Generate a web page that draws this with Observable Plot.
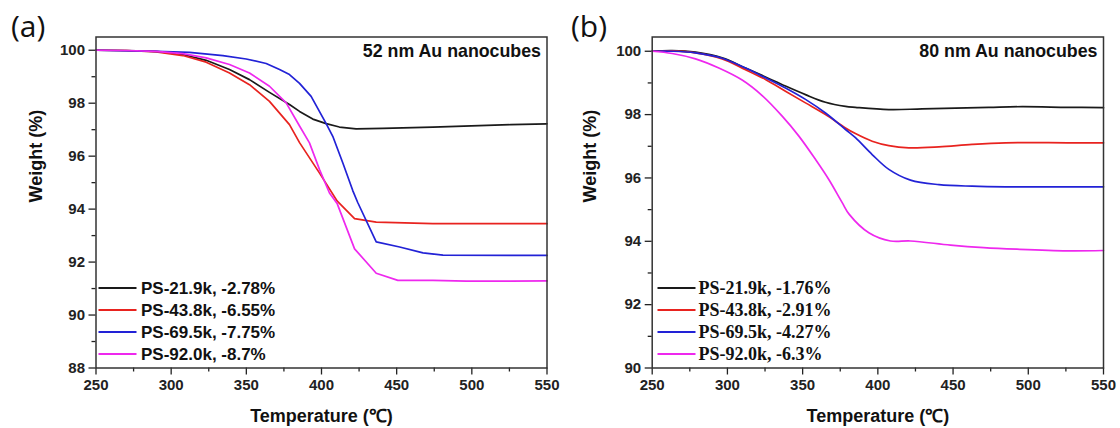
<!DOCTYPE html>
<html><head><meta charset="utf-8">
<script src="https://cdn.jsdelivr.net/npm/d3@7"></script>
<script src="https://cdn.jsdelivr.net/npm/@observablehq/plot@0.6"></script>
<style>
body{margin:0;background:#fff;}
#wrap{width:1120px;height:428px;display:flex;}
#wrap svg{display:block;}
</style></head><body><div id="wrap"></div>
<script>
// ---------- data ----------
const seriesNames = ["PS-21.9k", "PS-43.8k", "PS-69.5k", "PS-92.0k"];
const seriesColors = ["#1a1a1a", "#e8231f", "#2222d6", "#ee28ee"];
const xTicks = [250, 300, 350, 400, 450, 500, 550];
const xMinor = [275, 325, 375, 425, 475, 525];

// panel (a) 52 nm Au nanocubes
const legendA = ["PS-21.9k, -2.78%", "PS-43.8k, -6.55%", "PS-69.5k, -7.75%", "PS-92.0k, -8.7%"];
const yTicksA = [88, 90, 92, 94, 96, 98, 100];
const yMinorA = [89, 91, 93, 95, 97, 99];
const tA1 = [250,270,290,307.8,323.3,338.8,352.1,365.4,378.7,385.4,394.2,403.1,411.9,423,440.8,474.1,525.8,550];
const wA1 = [100,99.99,99.96,99.84,99.62,99.27,98.89,98.41,97.95,97.69,97.40,97.23,97.10,97.03,97.05,97.10,97.19,97.22];
const tA2 = [250,270,290,307.8,323.3,338.8,352.1,365.4,378.7,385.4,398.7,410.5,422,436.4,474.1,525.8,550];
const wA2 = [100,99.99,99.94,99.80,99.55,99.14,98.70,98.07,97.19,96.51,95.36,94.30,93.64,93.51,93.45,93.45,93.45];
const tA3 = [250,290,312.2,334.4,349.9,363.2,372.1,378.7,385.4,393.1,403.1,407.5,414.2,420.8,424.1,436.4,452,467.5,480.8,525.8,550];
const wA3 = [100,99.96,99.92,99.80,99.67,99.50,99.27,99.08,98.75,98.26,97.23,96.75,95.74,94.70,94.25,92.76,92.57,92.35,92.26,92.25,92.25];
const tA4 = [250,270,290,307.8,323.3,338.8,352.1,365.4,376.5,385.4,392,398.7,405.3,410.5,422,436.4,450.8,474.1,496.3,525.8,550];
const wA4 = [100,99.99,99.96,99.87,99.71,99.46,99.14,98.64,98.01,97.14,96.50,95.49,94.61,94.20,92.50,91.58,91.31,91.31,91.28,91.28,91.29];

// panel (b) 80 nm Au nanocubes
const legendB = ["PS-21.9k, -1.76%", "PS-43.8k, -2.91%", "PS-69.5k, -4.27%", "PS-92.0k, -6.3%"];
const yTicksB = [90, 92, 94, 96, 98, 100];
const yMinorB = [91, 93, 95, 97, 99];
const tB1 = [250,263.3,278.8,296.5,312,325.3,338.6,351.9,365.2,378.5,385.1,407.3,429.5,473.8,496,526.1,550];
const wB1 = [100,100.02,99.97,99.79,99.47,99.19,98.90,98.63,98.39,98.26,98.23,98.16,98.18,98.23,98.25,98.23,98.22];
const tB2 = [250,263.3,278.8,296.5,312,325.3,338.6,351.9,365.2,378.5,385.1,396.2,407.3,420.6,440.6,462.7,484.9,526.1,550];
const wB2 = [100,100.01,99.95,99.76,99.42,99.11,98.74,98.37,98.00,97.58,97.40,97.16,97.02,96.95,96.98,97.06,97.11,97.11,97.11];
const tB3 = [250,263.3,278.8,296.5,312,325.3,338.6,351.9,365.2,378.5,385.1,396.2,407.3,421.7,440.6,462.7,484.9,526.1,550];
const wB3 = [100,100,99.95,99.78,99.47,99.16,98.84,98.48,98.05,97.53,97.27,96.74,96.27,95.93,95.79,95.74,95.72,95.72,95.72];
const tB4 = [250,263.3,278.8,294.3,309.8,323.1,336.4,347.5,358.6,367.4,376.3,381,394,408.4,421.7,448.3,470.4,492.5,525.8,550];
const wB4 = [100,99.93,99.76,99.47,99.09,98.60,97.95,97.32,96.58,95.95,95.22,94.85,94.27,94.01,94.01,93.88,93.80,93.75,93.70,93.71];

function rows(ts, ws) {
  const out = [];
  ts.forEach((t, k) => ws[k].forEach((w, i) => out.push({series: seriesNames[k], T: t[i], W: w})));
  return out;
}
const dataA = rows([tA1, tA2, tA3, tA4], [wA1, wA2, wA3, wA4]);
const dataB = rows([tB1, tB2, tB3, tB4], [wB1, wB2, wB3, wB4]);

function panel({data, yDomain, yTicks, yMinor, ml, mr, title, tag, legend, legendFont, curve, ylabDx, titleDx, leg}) {
  const plot = Plot.plot({
    width: 560, height: 428,
    marginLeft: ml, marginRight: mr, marginTop: 36.5, marginBottom: 60.5,
    x: {domain: [250, 550]},
    y: {domain: yDomain},
    color: {domain: seriesNames, range: seriesColors},
    style: {fontFamily: "'Liberation Sans', Arial, sans-serif", color: "#222", background: "#fff", overflow: "visible"},
    marks: [
      Plot.axisX({ticks: xTicks, tickSize: 7, tickPadding: 4, fontSize: 15, fontWeight: "bold", label: null, strokeWidth: 1.3, tickFormat: d => String(d)}),
      Plot.axisX({ticks: xMinor, tickSize: 4, text: null, label: null, strokeWidth: 1.3}),
      Plot.axisY({ticks: yTicks, tickSize: 7, tickPadding: 4, fontSize: 15, fontWeight: "bold", label: null, strokeWidth: 1.3, tickFormat: d => String(d)}),
      Plot.axisY({ticks: yMinor, tickSize: 4, text: null, label: null, strokeWidth: 1.3}),
      Plot.line(data, {x: "T", y: "W", z: "series", stroke: "series", strokeWidth: 1.7, curve}),
      Plot.frame({stroke: "#333", strokeWidth: 1.5}),
      Plot.text([title], {frameAnchor: "top-right", dx: titleDx, dy: 14, lineAnchor: "middle", fontSize: 17.8, fontWeight: "bold", fill: "#111"}),
      Plot.text(["Temperature (\u2103)"], {frameAnchor: "bottom", dy: 48, lineAnchor: "middle", fontSize: 18, fontWeight: "bold", fill: "#111"}),
      Plot.text(["Weight (%)"], {frameAnchor: "left", rotate: -90, dx: ylabDx, lineAnchor: "middle", fontSize: 18, fontWeight: "bold", fill: "#111"})
    ]
  });
  const svg = d3.select(plot);
  svg.append("text").attr("x", 11).attr("y", 37).attr("text-anchor", "start")
    .attr("font-family", "'Open Sans', sans-serif")
    .attr("font-size", 30).attr("fill", "#111").text(tag);
  legend.forEach((lab, i) => {
    const y = 288 + i * 22;
    svg.append("line").attr("x1", leg.x1).attr("x2", leg.x2).attr("y1", y).attr("y2", y)
      .attr("stroke", seriesColors[i]).attr("stroke-width", 2);
    svg.append("text").attr("x", leg.tx).attr("y", y).attr("dy", "0.36em").attr("text-anchor", "start")
      .attr("font-family", legendFont.family).attr("font-size", legendFont.size)
      .attr("font-weight", "bold").attr("fill", "#111").text(lab);
  });
  return plot;
}

const wrap = document.getElementById("wrap");
wrap.appendChild(panel({
  data: dataA, yDomain: [88, 100.5], yTicks: yTicksA, yMinor: yMinorA, ml: 95.5, mr: 13.5,
  title: "52 nm Au nanocubes", tag: "(a)", legend: legendA,
  legendFont: {family: "'Liberation Sans', Arial, sans-serif", size: 17},
  curve: "linear", ylabDx: -59.5, titleDx: -6,
  leg: {x1: 98.5, x2: 136.5, tx: 141}
}));
wrap.appendChild(panel({
  data: dataB, yDomain: [90, 100.45], yTicks: yTicksB, yMinor: yMinorB, ml: 91.7, mr: 17,
  title: "80 nm Au nanocubes", tag: "(b)", legend: legendB,
  legendFont: {family: "'Liberation Serif', 'Times New Roman', serif", size: 18},
  curve: "catmull-rom", ylabDx: -61.7, titleDx: -6,
  leg: {x1: 97.5, x2: 135.5, tx: 138.5}
}));
</script></body></html>
